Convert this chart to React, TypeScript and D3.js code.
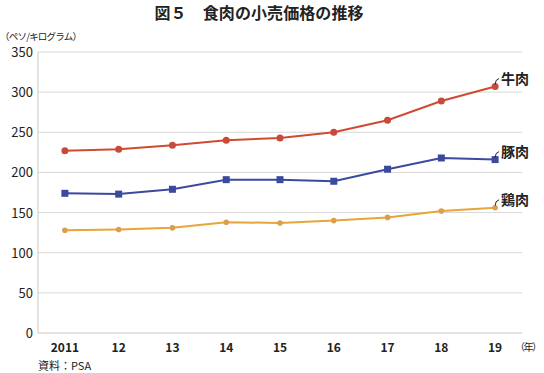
import { useRef, useEffect } from 'react';
import * as d3 from 'd3';

const years = ['2011', '12', '13', '14', '15', '16', '17', '18', '19'];
const beef = [227, 229, 234, 240, 243, 250, 265, 289, 307];
const pork = [174, 173, 179, 191, 191, 189, 204, 218, 216];
const chicken = [128, 129, 131, 138, 137, 140, 144, 152, 156];
const yTicks = [0, 50, 100, 150, 200, 250, 300, 350];

const seriesNames = ['牛肉', '豚肉', '鶏肉'];
const seriesColors = ['#cf4a30', '#3c4a9e', '#e9a43a'];

const W = 544;
const H = 373;
const margin = { top: 52, right: 22, bottom: 40, left: 38 };
const FONT = '"Noto Sans CJK JP", "Noto Sans", sans-serif';

const App = () => {
  const svgRef = useRef(null);

  useEffect(() => {
    const svg = d3.select(svgRef.current);
    svg.selectAll('*').remove();

    const innerW = W - margin.left - margin.right;
    const innerH = H - margin.top - margin.bottom;

    const g = svg
      .append('g')
      .attr('transform', `translate(${margin.left},${margin.top})`);

    const x = d3.scaleBand().domain(years).range([0, innerW]);
    const y = d3.scaleLinear().domain([0, 350]).range([innerH, 0]);
    const cx = (d: string) => (x(d) ?? 0) + x.bandwidth() / 2;

    // title
    svg
      .append('text')
      .attr('x', 259)
      .attr('y', 19)
      .attr('text-anchor', 'middle')
      .attr('font-family', FONT)
      .attr('font-weight', 'bold')
      .attr('font-size', 16)
      .attr('textLength', 209)
      .attr('fill', '#222')
      .text('図５　食肉の小売価格の推移');

    // unit label
    svg
      .append('text')
      .attr('x', 0)
      .attr('y', 40)
      .attr('font-family', FONT)
      .attr('font-size', 9.5)
      .attr('textLength', 82)
      .attr('fill', '#222')
      .text('（ペソ/キログラム）');

    // grid
    g.selectAll('.grid')
      .data(yTicks.filter((t) => t > 0))
      .enter()
      .append('line')
      .attr('x1', 0)
      .attr('x2', innerW)
      .attr('y1', (d) => y(d))
      .attr('y2', (d) => y(d))
      .attr('stroke', '#d8d8d8')
      .attr('stroke-width', 1);

    // axes
    g.append('line')
      .attr('x1', 0)
      .attr('x2', 0)
      .attr('y1', 0)
      .attr('y2', innerH)
      .attr('stroke', '#c8c8c8');
    g.append('line')
      .attr('x1', 0)
      .attr('x2', innerW)
      .attr('y1', innerH)
      .attr('y2', innerH)
      .attr('stroke', '#c8c8c8');

    // y tick labels
    g.selectAll('.ylab')
      .data(yTicks)
      .enter()
      .append('text')
      .attr('x', -5)
      .attr('y', (d) => y(d) + 5)
      .attr('text-anchor', 'end')
      .attr('font-family', FONT)
      .attr('font-size', 13)
      .attr('fill', '#222')
      .text((d) => d);

    // x tick labels
    g.selectAll('.xlab')
      .data(years)
      .enter()
      .append('text')
      .attr('x', (d) => cx(d))
      .attr('y', innerH + 19)
      .attr('text-anchor', 'middle')
      .attr('font-family', FONT)
      .attr('font-weight', 'bold')
      .attr('font-size', 12)
      .attr('fill', '#222')
      .text((d) => d);

    svg
      .append('text')
      .attr('x', 515)
      .attr('y', margin.top + innerH + 18)
      .attr('font-family', FONT)
      .attr('font-size', 10)
      .attr('letter-spacing', -1.5)
      .attr('fill', '#222')
      .text('（年）');

    svg
      .append('text')
      .attr('x', 38)
      .attr('y', 370)
      .attr('font-family', FONT)
      .attr('font-size', 11)
      .attr('fill', '#222')
      .text('資料：PSA');

    const allSeries = [beef, pork, chicken];
    const line = d3
      .line<number>()
      .x((_, i) => cx(years[i]))
      .y((d) => y(d));

    allSeries.forEach((vals, si) => {
      const color = seriesColors[si];
      g.append('path')
        .datum(vals)
        .attr('fill', 'none')
        .attr('stroke', color)
        .attr('stroke-width', 2)
        .attr('d', line);

      if (si === 1) {
        g.selectAll(`.m${si}`)
          .data(vals)
          .enter()
          .append('rect')
          .attr('x', (_, i) => cx(years[i]) - 3.5)
          .attr('y', (d) => y(d) - 3.5)
          .attr('width', 7)
          .attr('height', 7)
          .attr('fill', color);
      } else {
        g.selectAll(`.m${si}`)
          .data(vals)
          .enter()
          .append('circle')
          .attr('cx', (_, i) => cx(years[i]))
          .attr('cy', (d) => y(d))
          .attr('r', si === 0 ? 3.5 : 2.8)
          .attr('fill', si === 0 ? '#c94a3a' : '#d9a04a');
      }

      // label with leader
      const lx = cx(years[years.length - 1]);
      const ly = y(vals[vals.length - 1]);
      g.append('path')
        .attr('d', `M${lx},${ly - 2} Q${lx},${ly - 7} ${lx + 4},${ly - 8}`)
        .attr('fill', 'none')
        .attr('stroke', '#222')
        .attr('stroke-width', 1);
      g.append('text')
        .attr('x', lx + 6)
        .attr('y', ly - 3)
        .attr('font-family', FONT)
        .attr('font-weight', 'bold')
        .attr('font-size', 14)
        .attr('fill', '#222')
        .text(seriesNames[si]);
    });
  }, []);

  return (
    <svg
      ref={svgRef}
      width={W}
      height={H}
      style={{ position: 'absolute', left: 0, top: 0, display: 'block' }}
    />
  );
};

export default App;
